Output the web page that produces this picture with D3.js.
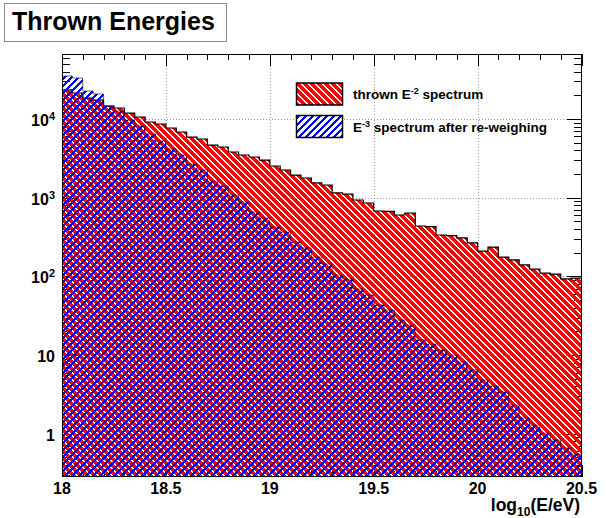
<!DOCTYPE html>
<html><head><meta charset="utf-8">
<script src="https://cdn.jsdelivr.net/npm/d3@7"></script>
<style>
body{margin:0;background:#fff}
svg{display:block}
text{font-family:"Liberation Sans",Arial,Helvetica,sans-serif;font-weight:bold;fill:#000}
</style>
</head><body>
<svg id="c" width="606" height="518"></svg>
<script>
// ---- data ----
const xRange = [18.0, 20.5];
const binCount = 50;
const thrownE2 = [23400, 21400, 18500, 17400, 14600, 13800, 11900, 10600, 9160, 8640,
  7690, 6840, 5900, 5570, 4670, 4410, 3810, 3490, 3290, 3010,
  2530, 2250, 1940, 1780, 1540, 1450, 1150, 1110, 935, 857,
  678, 670, 603, 639, 437, 430, 336, 330, 308, 266,
  210, 236, 176, 162, 140, 124, 110, 107, 93, 95];
const reweightedE3 = [35200, 33200, 22700, 20800, 14600, 12600, 9710, 8150, 6450, 5250,
  4160, 3490, 2680, 2250, 1630, 1410, 1080, 882, 658, 552,
  424, 367, 274, 230, 176, 144, 104, 92.7, 69.2, 58.0,
  43.3, 37.4, 27.9, 24.1, 15.6, 13.8, 11.6, 10.0, 8.17, 6.47,
  4.83, 4.05, 3.40, 2.32, 1.59, 1.29, 1.02, 0.834, 0.660, 0.554];
const xTickValues = [18, 18.5, 19, 19.5, 20, 20.5];
const xTickLabels = ["18", "18.5", "19", "19.5", "20", "20.5"];
const yTickValues = [1, 10, 100, 1000, 10000];
const yTickBase = ["1", "10", "10", "10", "10"];
const yTickExp = ["", "", "2", "3", "4"];
const yDomain = [0.2826, 67000];
const titleText = "Thrown Energies";
const legendBefore = ["thrown E", "E"];
const legendExp = ["-2", "-3"];
const legendAfter = [" spectrum", " spectrum after re-weighing"];

// ---- layout ----
const L = 62, R = 581.5, T = 54, B = 477;
const svg = d3.select("#c");
const x = d3.scaleLinear().domain(xRange).range([L, R]);
const y = d3.scaleLog().domain(yDomain).range([B, T]);
const binW = (xRange[1] - xRange[0]) / binCount;
const edges = d3.range(binCount + 1).map(i => xRange[0] + i * binW);

// patterns (pixel bitmaps)
const defs = svg.append("defs");
function makePattern(id, color, n, test) {
  const p = defs.append("pattern").attr("id", id).attr("patternUnits", "userSpaceOnUse")
    .attr("width", n).attr("height", n);
  let d = "";
  for (let i = 0; i < n; i++) for (let j = 0; j < n; j++) {
    if (test(i, j)) d += `M${i},${j}h1v1h-1z`;
  }
  p.append("path").attr("d", d).attr("fill", color).attr("shape-rendering", "crispEdges");
}
const mod = (a, n) => ((a % n) + n) % n;
makePattern("redHatch", "#ff0000", 7, (i, j) => mod(i - j, 7) > 1);
makePattern("blueHatch", "#0000ff", 7, (i, j) => mod(i + j, 7) < 3);
defs.append("clipPath").attr("id", "plotClip").append("rect")
  .attr("x", L).attr("y", T).attr("width", R - L).attr("height", B - T);

// grid
const grid = svg.append("g").attr("stroke", "#9a9a9a").attr("stroke-width", 1)
  .attr("stroke-dasharray", "1,2").attr("shape-rendering", "crispEdges");
xTickValues.filter(v => v > xRange[0] && v < xRange[1]).forEach(v => {
  grid.append("line").attr("x1", Math.round(x(v)) + 0.5).attr("x2", Math.round(x(v)) + 0.5)
    .attr("y1", T).attr("y2", B);
});
yTickValues.forEach(v => {
  grid.append("line").attr("y1", Math.round(y(v)) + 0.5).attr("y2", Math.round(y(v)) + 0.5)
    .attr("x1", L).attr("x2", R);
});

// ticks
const ticks = svg.append("g").attr("stroke", "#000").attr("stroke-width", 1).attr("shape-rendering", "crispEdges");
const xMinor = d3.range(0, 26).map(i => xRange[0] + i * 0.1);
xMinor.forEach(v => {
  const major = Math.abs(v * 2 - Math.round(v * 2)) < 1e-6;
  const len = major ? 12 : 6;
  const px = Math.round(x(v)) + 0.5;
  ticks.append("line").attr("x1", px).attr("x2", px).attr("y1", T).attr("y2", T + len);
  ticks.append("line").attr("x1", px).attr("x2", px).attr("y1", B).attr("y2", B - len);
});
const yMinor = [];
for (let e = -1; e <= 4; e++) for (let m = 1; m <= 9; m++) {
  const v = m * Math.pow(10, e);
  if (v >= yDomain[0] && v <= yDomain[1]) yMinor.push({v, major: m === 1});
}
yMinor.forEach(d => {
  const len = d.major ? 15 : 8;
  const py = Math.round(y(d.v)) + 0.5;
  ticks.append("line").attr("x1", L).attr("x2", L + len).attr("y1", py).attr("y2", py);
  ticks.append("line").attr("x1", R).attr("x2", R - len).attr("y1", py).attr("y2", py);
});

// histograms
function stepPath(vals) {
  const p = d3.path();
  p.moveTo(x(edges[0]), B + 2);
  vals.forEach((v, i) => {
    p.lineTo(x(edges[i]), y(v));
    p.lineTo(x(edges[i + 1]), y(v));
  });
  p.lineTo(x(edges[binCount]), B + 2);
  p.closePath();
  return p.toString();
}
const hg = svg.append("g").attr("clip-path", "url(#plotClip)");
hg.append("path").attr("d", stepPath(thrownE2)).attr("fill", "url(#redHatch)")
  .attr("stroke", "#000").attr("stroke-width", 1.2);
hg.append("path").attr("d", stepPath(reweightedE3)).attr("fill", "url(#blueHatch)")
  .attr("stroke", "#000").attr("stroke-width", 0.8).attr("stroke-opacity", 0.7);

// frame
svg.append("rect").attr("x", L + 0.5).attr("y", T + 0.5).attr("width", R - L - 1).attr("height", B - T - 1)
  .attr("fill", "none").attr("stroke", "#000").attr("stroke-width", 1).attr("shape-rendering", "crispEdges");

// x tick labels
xTickValues.forEach((v, i) => {
  svg.append("text").attr("x", x(v)).attr("y", 494).attr("text-anchor", "middle")
    .attr("font-size", 16).text(xTickLabels[i]);
});
// y tick labels
yTickValues.forEach((v, i) => {
  const t = svg.append("text").attr("x", 55).attr("y", y(v) + 7).attr("text-anchor", "end").attr("font-size", 16);
  t.append("tspan").text(yTickBase[i]);
  if (yTickExp[i]) t.append("tspan").attr("dy", -6).attr("font-size", 11).text(yTickExp[i]);
});
// x axis title
const xt = svg.append("text").attr("x", 580).attr("y", 511).attr("text-anchor", "end").attr("font-size", 17.5);
xt.append("tspan").text("log");
xt.append("tspan").attr("dy", 5).attr("font-size", 12).text("10");
xt.append("tspan").attr("dy", -5).text("(E/eV)");

// title
svg.append("rect").attr("x", 4.5).attr("y", 3.5).attr("width", 222).attr("height", 38)
  .attr("fill", "#fff").attr("stroke", "#8c8c8c").attr("stroke-width", 1);
svg.append("text").attr("x", 12).attr("y", 29.5).attr("font-size", 25).text(titleText);

// legend
const sw = [{y: 83, fill: "url(#redHatch)"}, {y: 115.5, fill: "url(#blueHatch)"}];
sw.forEach((s, i) => {
  svg.append("rect").attr("x", 296.5).attr("y", s.y).attr("width", 46).attr("height", 22)
    .attr("fill", "#fff").attr("stroke", "none");
  svg.append("rect").attr("x", 296.5).attr("y", s.y).attr("width", 46).attr("height", 22)
    .attr("fill", s.fill).attr("stroke", "#000").attr("stroke-width", 1.5);
  const t = svg.append("text").attr("x", 353).attr("y", s.y + 16).attr("font-size", 13.5);
  t.append("tspan").text(legendBefore[i]);
  t.append("tspan").attr("dy", -5).attr("font-size", 9).text(legendExp[i]);
  t.append("tspan").attr("dy", 5).text(legendAfter[i]);
});
</script>
</body></html>
